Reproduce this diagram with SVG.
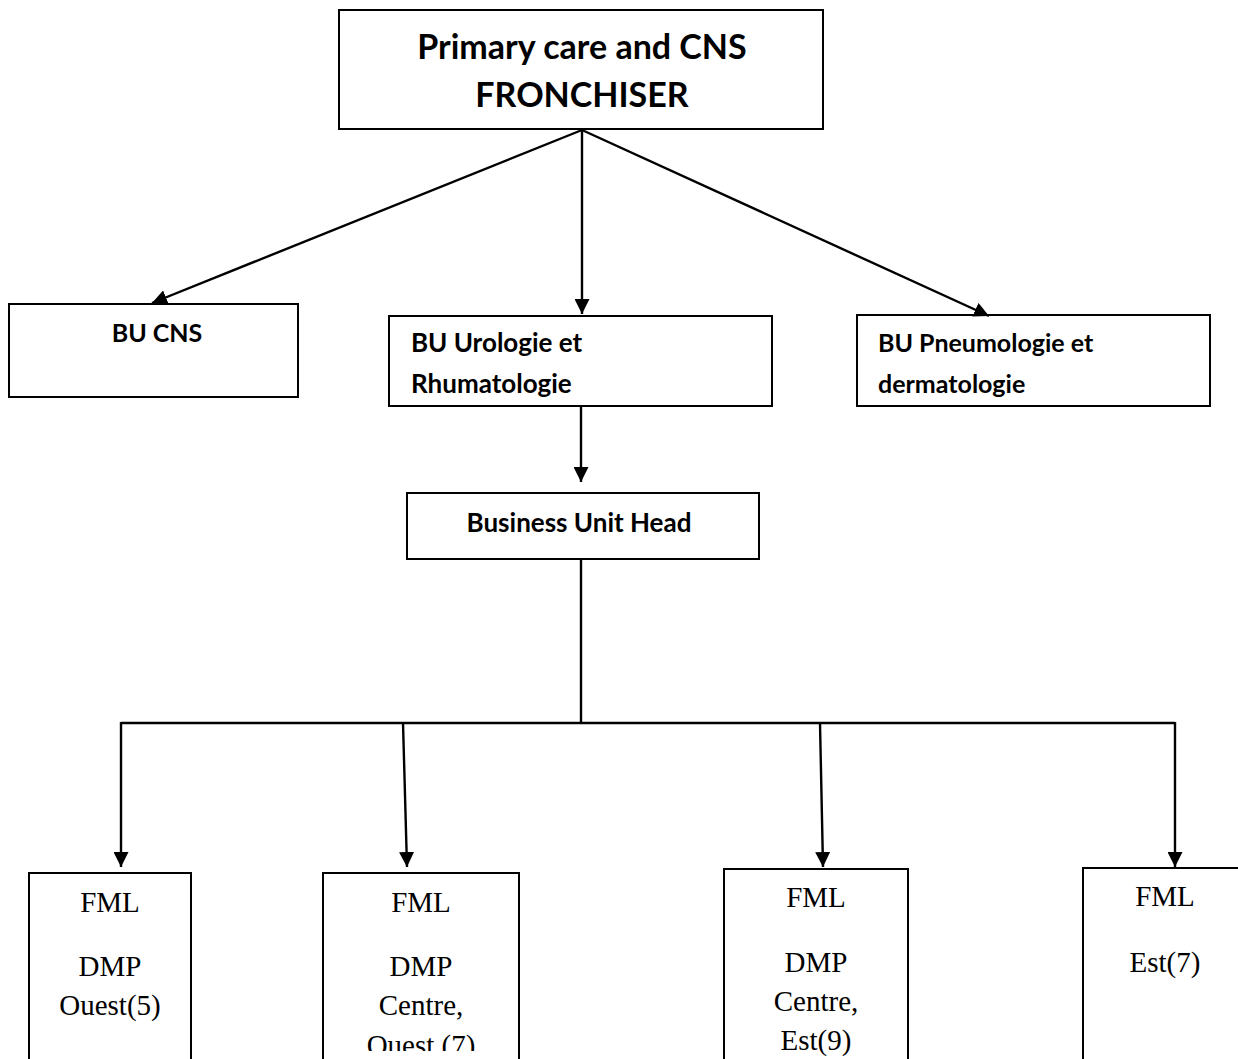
<svg xmlns="http://www.w3.org/2000/svg" width="1238" height="1059" viewBox="0 0 1238 1059">
  <style>
    .box { fill: #ffffff; stroke: #000000; stroke-width: 2; }
    .link { fill: none; stroke: #000000; stroke-width: 2.4; }
    .head { font-family: Lato, "Open Sans", "Liberation Sans", sans-serif; font-weight: 700; fill: #000000; }
    .serif { font-family: "Liberation Serif", "Times New Roman", serif; font-size: 29px; fill: #000000; text-anchor: middle; }
  </style>
  <defs>
    <marker id="arrow" viewBox="0 0 10 10" refX="10" refY="5" markerWidth="15" markerHeight="15" markerUnits="userSpaceOnUse" orient="auto">
      <path d="M0,0 L10,5 L0,10 Z" fill="#000000"/>
    </marker>
    <clipPath id="clipUro"><rect x="389" y="316" width="384" height="86"/></clipPath>
    <clipPath id="clipPneu"><rect x="857" y="315" width="354" height="87"/></clipPath>
    <clipPath id="clipBottom"><rect x="0" y="860" width="1238" height="191"/></clipPath>
  </defs>

  <!-- top level -->
  <g id="franchise">
    <rect class="box" x="339" y="10" width="484" height="119"/>
    <text class="head" x="582" y="59" font-size="34" text-anchor="middle">Primary care and CNS</text>
    <text class="head" x="582" y="107" font-size="34" text-anchor="middle">FRONCHISER</text>
  </g>

  <!-- business units -->
  <g id="bu-cns">
    <rect class="box" x="9" y="304" width="289" height="93"/>
    <text class="head" x="157" y="342" font-size="25" text-anchor="middle">BU CNS</text>
  </g>
  <g id="bu-urologie">
    <rect class="box" x="389" y="316" width="383" height="90"/>
    <g clip-path="url(#clipUro)">
      <text class="head" x="411" y="352" font-size="26">BU Urologie et</text>
      <text class="head" x="411" y="393" font-size="26">Rhumatologie</text>
    </g>
  </g>
  <g id="bu-pneumologie">
    <rect class="box" x="857" y="315" width="353" height="91"/>
    <g clip-path="url(#clipPneu)">
      <text class="head" x="878" y="352" font-size="25">BU Pneumologie et</text>
      <text class="head" x="878" y="393" font-size="25">dermatologie</text>
    </g>
  </g>

  <g id="bu-head">
    <rect class="box" x="407" y="493" width="352" height="66"/>
    <text class="head" x="579" y="532" font-size="26" text-anchor="middle">Business Unit Head</text>
  </g>

  <!-- field managers -->
  <g id="fml-ouest">
    <rect class="box" x="29" y="873" width="162" height="200"/>
    <text class="serif" x="110" y="912">FML</text>
    <text class="serif" x="110" y="976">DMP</text>
    <text class="serif" x="110" y="1015">Ouest(5)</text>
  </g>
  <g id="fml-centre-ouest">
    <rect class="box" x="323" y="873" width="196" height="200"/>
    <g clip-path="url(#clipBottom)">
      <text class="serif" x="421" y="912">FML</text>
      <text class="serif" x="421" y="976">DMP</text>
      <text class="serif" x="421" y="1015">Centre,</text>
      <text class="serif" x="421" y="1055">Ouest (7)</text>
    </g>
  </g>
  <g id="fml-centre-est">
    <rect class="box" x="724" y="869" width="184" height="200"/>
    <text class="serif" x="816" y="907">FML</text>
    <text class="serif" x="816" y="972">DMP</text>
    <text class="serif" x="816" y="1011">Centre,</text>
    <text class="serif" x="816" y="1050">Est(9)</text>
  </g>
  <g id="fml-est">
    <rect class="box" x="1083" y="868" width="164" height="200"/>
    <text class="serif" x="1165" y="906">FML</text>
    <text class="serif" x="1165" y="972">Est(7)</text>
  </g>

  <!-- connectors -->
  <g id="connectors">
    <line class="link" x1="582" y1="130" x2="152" y2="303" marker-end="url(#arrow)"/>
    <line class="link" x1="582" y1="130" x2="582" y2="314" marker-end="url(#arrow)"/>
    <line class="link" x1="582" y1="130" x2="989" y2="316" marker-end="url(#arrow)"/>
    <line class="link" x1="581" y1="407" x2="581" y2="482" marker-end="url(#arrow)"/>
    <polyline class="link" points="581,559 581,723"/>
    <polyline class="link" points="121,723 1175,723"/>
    <line class="link" x1="121" y1="722" x2="121" y2="867" marker-end="url(#arrow)"/>
    <line class="link" x1="403" y1="723" x2="407" y2="867" marker-end="url(#arrow)"/>
    <line class="link" x1="820" y1="723" x2="823" y2="867" marker-end="url(#arrow)"/>
    <line class="link" x1="1175" y1="722" x2="1175" y2="867" marker-end="url(#arrow)"/>
  </g>
</svg>
